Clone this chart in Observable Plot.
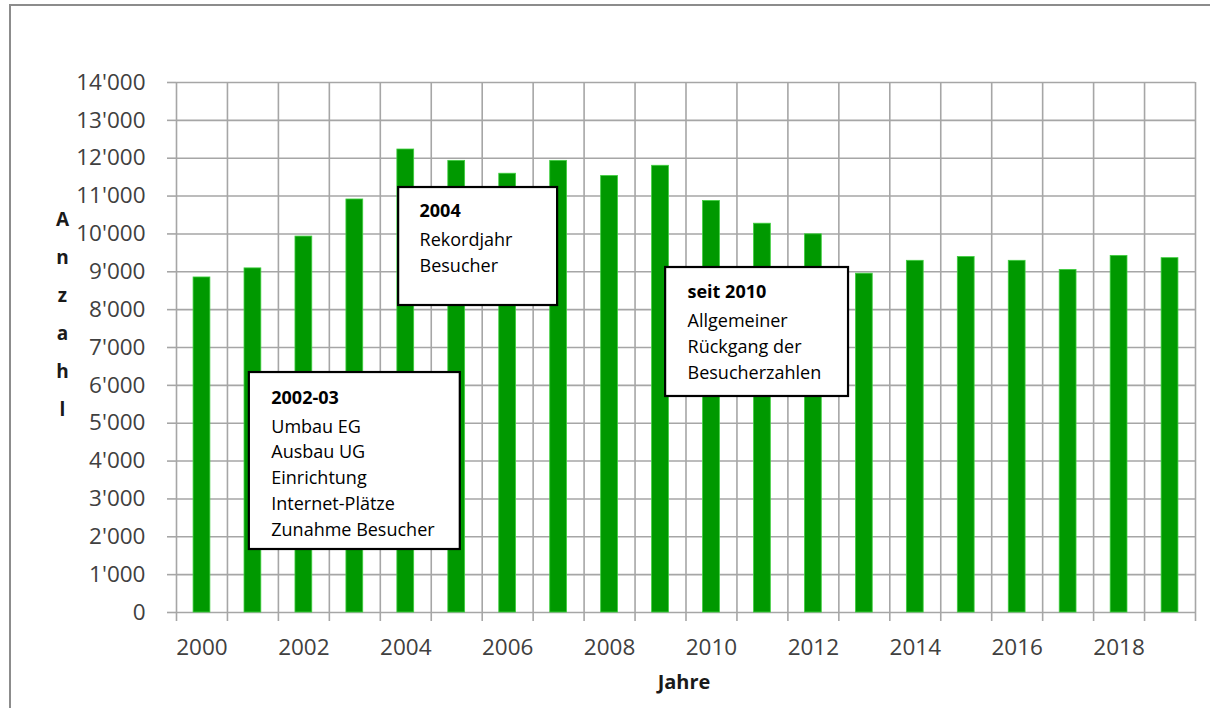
<!DOCTYPE html>
<html>
<head>
<meta charset="utf-8">
<script src="https://cdn.jsdelivr.net/npm/d3@7"></script>
<script src="https://cdn.jsdelivr.net/npm/@observablehq/plot@0.6"></script>
<style>
  html, body { margin: 0; padding: 0; background: #fff; }
  #wrap { position: relative; width: 1210px; height: 708px; overflow: hidden; }
  #border { position: absolute; left: 9px; top: 4px; width: 1220px; height: 730px; border: 2px solid #8c8c8c; box-sizing: border-box; }
  #chart { position: absolute; left: 0; top: 0; }
</style>
</head>
<body>
<div id="wrap"><div id="border"></div><div id="chart"></div></div>
<script>
const years = [2000, 2001, 2002, 2003, 2004, 2005, 2006, 2007, 2008, 2009,
               2010, 2011, 2012, 2013, 2014, 2015, 2016, 2017, 2018, 2019];
const visitors = [8850, 9090, 9930, 10910, 12230, 11930, 11590, 11930, 11530, 11800,
                  10870, 10270, 9990, 8950, 9290, 9390, 9290, 9050, 9420, 9360];
const yTicks = [0, 1000, 2000, 3000, 4000, 5000, 6000, 7000, 8000, 9000, 10000, 11000, 12000, 13000, 14000];
const xLabelYears = [2000, 2002, 2004, 2006, 2008, 2010, 2012, 2014, 2016, 2018];
const yTitle = "Anzahl";
const xTitle = "Jahre";

// annotation boxes: anchored in data space (year, visitors)
const boxTitles = ["2002-03", "2004", "seit 2010"];
const boxBodies = [
  ["Umbau EG", "Ausbau UG", "Einrichtung", "Internet-Plätze", "Zunahme Besucher"],
  ["Rekordjahr", "Besucher"],
  ["Allgemeiner", "Rückgang der", "Besucherzahlen"]
];
const boxX1 = [2000.93, 2003.86, 2009.10];
const boxX2 = [2005.07, 2006.98, 2012.69];
const boxY1 = [1664, 8109, 5706];
const boxY2 = [6339, 11226, 9113];
const boxTextX = [2001.36, 2004.27, 2009.53];
const boxTitleY = [5652, 10592, 8453];
const boxBodyY = [3605, 9549, 7079];

const data = years.map((y, i) => ({year: y, value: visitors[i]}));
const boundaries = d3.range(years.length + 1).map(i => years[0] - 0.5 + i);
const boxes = boxTitles.map((t, i) => ({
  title: t, body: boxBodies[i].join("\n"),
  x1: boxX1[i], x2: boxX2[i], y1: boxY1[i], y2: boxY2[i],
  tx: boxTextX[i], ty: boxTitleY[i], by: boxBodyY[i]
}));

const fmt = v => d3.format(",")(v).replace(/,/g, "'");
const grid = "#a6a6a6";
const font = "'Open Sans', sans-serif";

const chart = Plot.plot({
  width: 1210,
  height: 708,
  marginLeft: 176,
  marginRight: 15,
  marginTop: 82,
  marginBottom: 96,
  style: {fontFamily: font, background: "transparent"},
  x: {type: "linear", domain: [boundaries[0], boundaries[boundaries.length - 1]], axis: null},
  y: {domain: [0, 14000], axis: null},
  marks: [
    // horizontal gridlines
    Plot.ruleY(yTicks, {stroke: grid, strokeWidth: 1.6}),
    // vertical gridlines at category boundaries
    Plot.ruleX(boundaries, {stroke: grid, strokeWidth: 1.6}),
    // y tick marks + labels
    Plot.axisY(yTicks, {tickSize: 9, tickPadding: 22, tickFormat: fmt, stroke: grid, strokeWidth: 1.6,
      fill: "#404040", fontSize: 22.5, fontFamily: font}),
    // x tick marks at boundaries
    Plot.axisX(boundaries, {tickSize: 9, tickFormat: () => "", stroke: grid, strokeWidth: 1.6}),
    // x labels at even years
    Plot.axisX(xLabelYears, {tickSize: 0, tickPadding: 27, tickFormat: d => String(d),
      fill: "#404040", fontSize: 22.5, fontFamily: font}),
    // bars
    Plot.rectY(data, {x1: d => d.year - 0.165, x2: d => d.year + 0.165, y1: 0, y2: "value",
      fill: "#009900", stroke: "#3fcf3f", strokeWidth: 0.8}),
    // annotation boxes
    Plot.rect(boxes, {x1: "x1", x2: "x2", y1: "y1", y2: "y2", fill: "white", stroke: "black", strokeWidth: 2.2}),
    Plot.text(boxes, {x: "tx", y: "ty", text: "title", textAnchor: "start", lineAnchor: "middle",
      fontWeight: "bold", fontSize: 18, fill: "#000"}),
    Plot.text(boxes, {x: "tx", y: "by", text: "body", textAnchor: "start", lineAnchor: "middle",
      lineHeight: 1.435, fontSize: 18, fill: "#000"}),
    // axis titles
    Plot.text([yTitle.split("").join("\n")], {frameAnchor: "left", dx: -114, dy: -39, text: d => d,
      lineHeight: 2, fontWeight: "bold", fontSize: 19, fill: "#1a1a1a", textAnchor: "middle", lineAnchor: "middle"}),
    Plot.text([xTitle], {frameAnchor: "bottom", dx: -2, dy: 70, text: d => d,
      fontWeight: "bold", fontSize: 20, fill: "#1a1a1a", textAnchor: "middle", lineAnchor: "middle"})
  ]
});
document.getElementById("chart").appendChild(chart);
</script>
</body>
</html>
